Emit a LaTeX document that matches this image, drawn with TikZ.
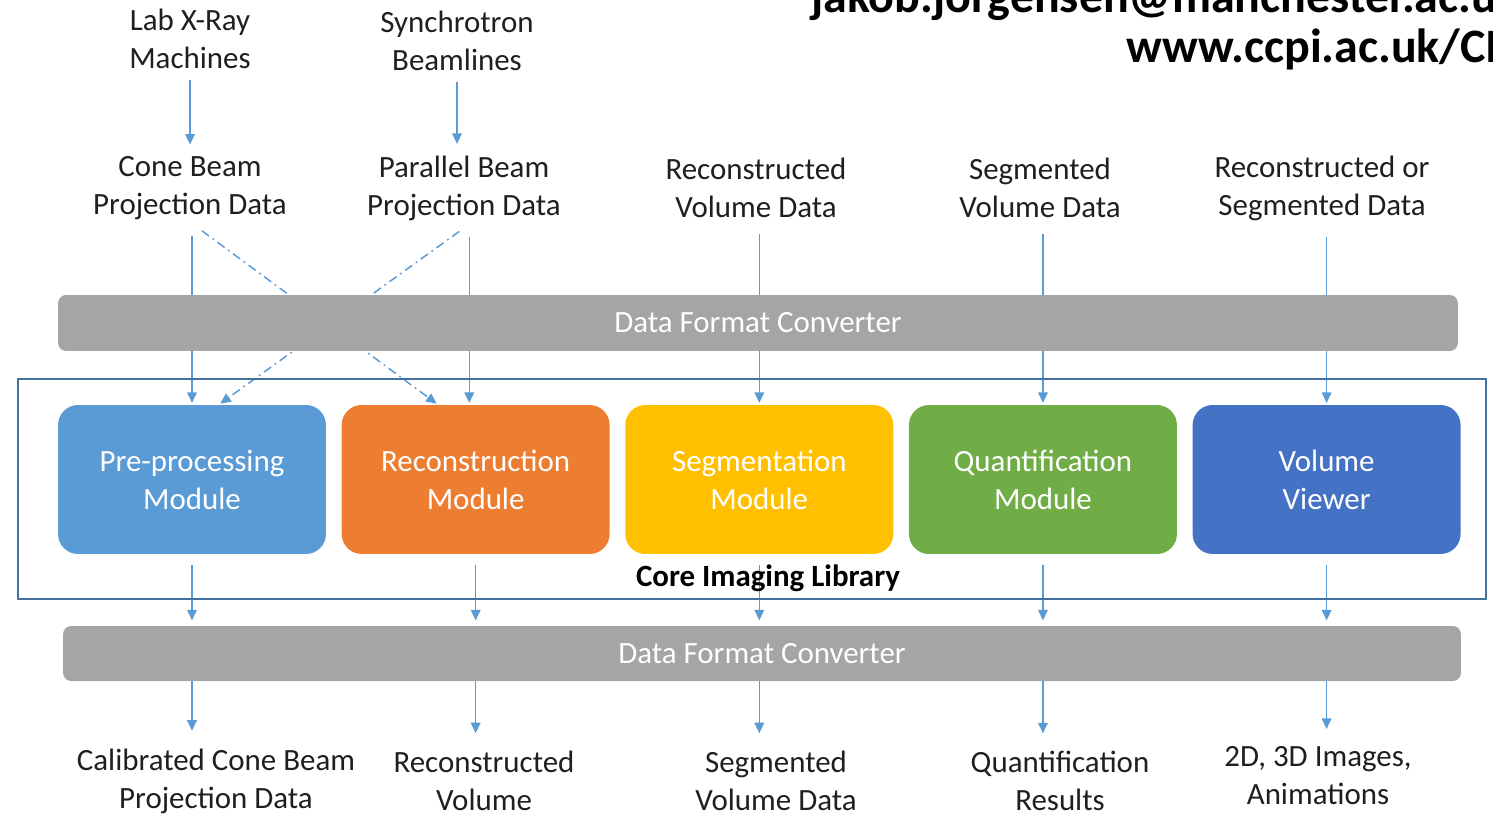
\documentclass[tikz,border=0pt]{standalone}
\usepackage{fontspec}
\setmainfont{Carlito}
\usepackage{tikz}
\usetikzlibrary{positioning,arrows.meta,backgrounds,calc}

\definecolor{arrowblue}{HTML}{5B9BD5}
\definecolor{preblue}{HTML}{5B9BD5}
\definecolor{recorange}{HTML}{ED7D31}
\definecolor{segyellow}{HTML}{FFC000}
\definecolor{quantgreen}{HTML}{70AD47}
\definecolor{viewblue}{HTML}{4472C4}
\definecolor{convgray}{HTML}{A5A5A5}
\definecolor{frameblue}{HTML}{41719C}
\definecolor{textgray}{HTML}{1F1F1F}

\tikzset{
	lbl/.style={align=center, text=textgray, font=\fontsize{17.6}{21.6}\selectfont, inner sep=2pt},
	mod/.style={lbl, text=white, rounded corners=0.4cm, minimum width=5.36cm, minimum height=2.98cm},
	conv/.style={lbl, text=white, fill=convgray, rounded corners=0.16cm, minimum height=1.12cm},
	arr/.style={color=arrowblue, line width=0.85pt, -{Triangle[length=6pt,width=5.5pt]}},
	crossarr/.style={dash pattern=on 5pt off 2.5pt on 1pt off 2.5pt},
	head/.style={anchor=base west, text=black, font=\fontsize{27.3}{31}\selectfont\bfseries, inner sep=0pt},
}

\begin{document}
\begin{tikzpicture}[x=0.02cm, y=-0.02cm]
		\useasboundingbox (0,0) rectangle (1493,814);
		\clip (0,0) rectangle (1493,814);
		% header
		\node[head] (email) at (811,12.7) {jakob.jorgensen@manchester.ac.uk};
		\node[head] (web) at (1126,63) {www.ccpi.ac.uk/CIL};
		% sources and input data
		\node[lbl] (lab) at (190,39) {Lab X-Ray\\Machines};
		\node[lbl] (sync) at (457,41) {Synchrotron\\Beamlines};
		\node[lbl] (cone) at (190,188) {Cone Beam\\Projection Data};
		\node[lbl] (par) at (464,188) {Parallel Beam\\Projection Data};
		\node[lbl] (recvol) at (756,188) {Reconstructed\\Volume Data};
		\node[lbl] (segvol) at (1040,188) {Segmented\\Volume Data};
		\node[lbl] (recseg) at (1322,188) {Reconstructed or\\Segmented Data};
		\node[conv, minimum width=28cm] (convin) at (758,323) {Data Format Converter};
		% modules
		\node[mod, fill=preblue] (pre) at (192,479.5) {Pre-processing\\Module};
		\node[mod, fill=recorange, right=0.3cm of pre] (rec) {Reconstruction\\Module};
		\node[mod, fill=segyellow, right=0.3cm of rec] (seg) {Segmentation\\Module};
		\node[mod, fill=quantgreen, right=0.3cm of seg] (quant) {Quantification\\Module};
		\node[mod, fill=viewblue, right=0.3cm of quant] (view) {Volume\\Viewer};
		\node[draw=frameblue, line width=1.4pt, minimum width=29.36cm, minimum height=4.4cm] (cil) at (752,489) {};
		\node[lbl, text=black, font=\fontsize{17.6}{21.6}\selectfont\bfseries] (cillbl) at (768,578) {Core Imaging Library};
		% outputs
		\node[conv, minimum width=27.96cm, minimum height=1.1cm] (convout) at (762,653.5) {Data Format Converter};
		\node[lbl] (out1) at (216,781) {Calibrated Cone Beam\\Projection Data};
		\node[lbl] (out2) at (484,781) {Reconstructed\\Volume};
		\node[lbl] (out3) at (776,781) {Segmented\\Volume Data};
		\node[lbl] (out4) at (1060,781) {Quantification\\Results};
		\node[lbl] (out5) at (1318,776) {2D, 3D Images,\\Animations};
		
		\begin{scope}[on background layer]
		\path[arr, shorten <=4pt, shorten >=4.5pt]
		(lab) edge (cone)
		(sync) edge (sync |- par.north)
		;
		\path[arr, shorten <=7pt, shorten >=1pt]
		(cone.south -| pre.north) edge (pre.north)
		([xshift=3pt]par.south) edge ([xshift=3pt]par.south |- rec.north)
		(recvol.south -| seg.north) edge (seg.north)
		(segvol.south -| quant.north) edge (quant.north)
		(recseg.south -| view.north) edge (view.north)
		(cone.south -| pre.north) edge[crossarr] ($(rec.north west)!0.72!(rec.north)$)
		([xshift=3pt]par.south) edge[crossarr] ($(pre.north)!0.2!(pre.north east)$)
		;
		\path[arr, shorten <=6pt, shorten >=3pt]
		(pre.south) edge (pre.south |- convout.north)
		(rec.south) edge (rec.south |- convout.north)
		(seg.south) edge (seg.south |- convout.north)
		(quant.south) edge (quant.south |- convout.north)
		(view.south) edge (view.south |- convout.north)
		;
		\path[arr, shorten >=8pt]
		(pre.south |- convout.south) edge (pre.south |- out1.north)
		(rec.south |- convout.south) edge (rec.south |- out2.north)
		(seg.south |- convout.south) edge (seg.south |- out3.north)
		(quant.south |- convout.south) edge (quant.south |- out4.north)
		(view.south |- convout.south) edge (view.south |- out5.north)
		;
		\end{scope}
	\end{tikzpicture}
\end{document}
